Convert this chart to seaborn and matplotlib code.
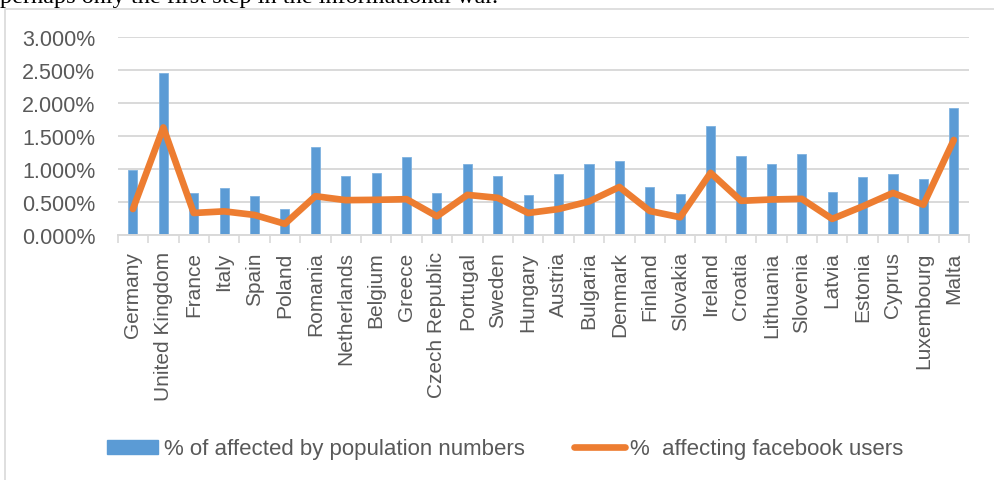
import numpy as np
import pandas as pd
import matplotlib
matplotlib.use("Agg")
import matplotlib.pyplot as plt
from matplotlib.patches import Patch, Rectangle
from matplotlib.lines import Line2D
from matplotlib.ticker import FuncFormatter, FixedLocator
import seaborn as sns

countries = ["Germany", "United Kingdom", "France", "Italy", "Spain", "Poland",
             "Romania", "Netherlands", "Belgium", "Greece", "Czech Republic",
             "Portugal", "Sweden", "Hungary", "Austria", "Bulgaria", "Denmark",
             "Finland", "Slovakia", "Ireland", "Croatia", "Lithuania", "Slovenia",
             "Latvia", "Estonia", "Cyprus", "Luxembourg", "Malta"]
pop_pct = [0.99, 2.45, 0.635, 0.705, 0.59, 0.395, 1.33, 0.89, 0.94, 1.18, 0.635,
           1.08, 0.89, 0.605, 0.925, 1.075, 1.12, 0.725, 0.615, 1.65, 1.19, 1.075,
           1.23, 0.65, 0.88, 0.925, 0.845, 1.93]
fb_pct = [0.39, 1.63, 0.33, 0.355, 0.30, 0.165, 0.585, 0.525, 0.53, 0.54, 0.28,
          0.605, 0.56, 0.33, 0.39, 0.505, 0.725, 0.36, 0.265, 0.94, 0.515, 0.535,
          0.545, 0.24, 0.43, 0.635, 0.455, 1.44]
yticks = [0.0, 0.5, 1.0, 1.5, 2.0, 2.5, 3.0]
legend_labels = ["% of affected by population numbers", "%  affecting facebook users"]
header_text = "perhaps only the first step in the informational war."

BLUE = "#5B9BD5"
ORANGE = "#ED7D31"
GRID = "#D9D9D9"
TXT = "#595959"

sns.set_theme(style="white")
plt.rcParams["font.family"] = ["Liberation Sans", "DejaVu Sans"]

W, H = 994, 481
fig = plt.figure(figsize=(W / 100, H / 100), dpi=100)

# chart frame
fig.patches.append(Rectangle((5 / W, -0.1), 1.2, 1 - 10 / H + 0.1, transform=fig.transFigure,
                             fill=False, edgecolor=GRID, linewidth=1.2, zorder=0))
fig.text(0.0, 1 - 2.5 / H, header_text, family=["Liberation Serif", "DejaVu Serif"],
         fontsize=17.5, va="baseline", ha="left", color="black")

left, right = 117.7 / W, 969 / W
bottom, top = (H - 235.7) / H, (H - 38.3) / H
ax = fig.add_axes([left, bottom, right - left, top - bottom])

df = pd.DataFrame({"country": countries, "pop": pop_pct, "fb": fb_pct, "pos": np.arange(len(countries))})
sns.barplot(data=df, x="country", y="pop", color=BLUE, width=0.3, saturation=1,
            ax=ax, zorder=2, edgecolor="#7FB2E0", linewidth=0.6)
sns.lineplot(data=df, x="pos", y="fb", color=ORANGE, linewidth=4.8, ax=ax, zorder=3,
             solid_joinstyle="round", solid_capstyle="round")

n = len(countries)
ax.set_xlim(-0.5, n - 0.5)
ax.set_ylim(0, 3.0)
ax.set_yticks(yticks)
ax.yaxis.set_major_formatter(FuncFormatter(lambda v, p: f"{v:.3f}%"))
ax.set_xticks(np.arange(n))
ax.set_xticklabels(countries, rotation=90)
ax.xaxis.set_minor_locator(FixedLocator(np.arange(-0.5, n, 1.0)))
ax.tick_params(axis="x", which="major", length=0, pad=12, labelsize=15, labelcolor=TXT)
ax.tick_params(axis="x", which="minor", length=6, width=1.2, color=GRID, bottom=True)
ax.tick_params(axis="y", length=0, pad=16, labelsize=15.5, labelcolor=TXT)
ax.set_xlabel("")
ax.set_ylabel("")
ax.grid(axis="y", color=GRID, linewidth=1.4, zorder=0)
ax.grid(axis="x", visible=False)
ax.set_axisbelow(True)
for s in ["top", "right", "left"]:
    ax.spines[s].set_visible(False)
ax.spines["bottom"].set_color(GRID)
ax.spines["bottom"].set_linewidth(1.4)
if ax.get_legend():
    ax.get_legend().remove()

handles = [Patch(facecolor=BLUE, edgecolor=BLUE),
           Line2D([0], [0], color=ORANGE, linewidth=4.8, solid_capstyle="round")]
fig.legend(handles, legend_labels, loc="center", bbox_to_anchor=(505.5 / W, (H - 450) / H),
           ncol=2, frameon=False, fontsize=16, labelcolor=TXT, handlelength=2.3,
           handleheight=0.6, handletextpad=0.25, columnspacing=2.2,
           borderpad=0, borderaxespad=0)

fig.savefig("out.png", dpi=100)
